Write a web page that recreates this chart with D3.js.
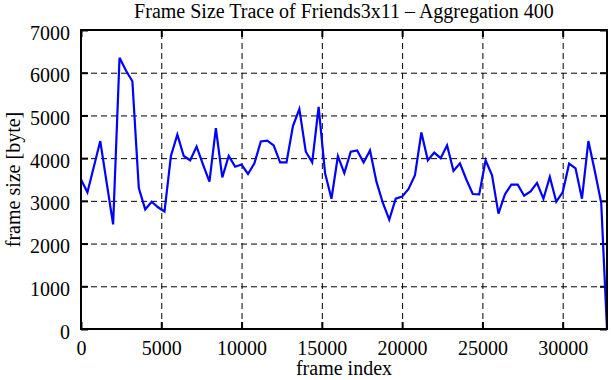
<!DOCTYPE html>
<html>
<head>
<meta charset="utf-8">
<script src="https://cdn.jsdelivr.net/npm/d3@7"></script>
<style>
  body { margin: 0; background: #fff; }
  svg text { font-family: "Liberation Serif", "Times New Roman", serif; font-size: 20px; fill: #000; }
</style>
</head>
<body>
<svg id="chart" width="611" height="380"></svg>
<script>
// aggregated frame sizes, one value per 400 frames
var frameSizes = [
  3500, 3200, 3800, 4400, 3420, 2450, 6350, 6050, 5800, 3300,
  2800, 2980, 2850, 2750, 4050, 4550, 4050, 3950, 4270, 3850,
  3450, 4700, 3550, 4050, 3800, 3850, 3630, 3880, 4390, 4410,
  4300, 3900, 3900, 4750, 5150, 4150, 3900, 5200, 3650, 3050,
  4050, 3650, 4150, 4180, 3900, 4180, 3450, 2950, 2560, 3050,
  3100, 3280, 3600, 4600, 3950, 4130, 4000, 4300, 3700, 3880,
  3500, 3160, 3150, 3950, 3600, 2700, 3150, 3380, 3380, 3120,
  3220, 3420, 3050, 3560, 2980, 3200, 3870, 3760, 3050, 4400,
  3700, 2950, 0
]
var aggregation = 400
var lastFrame = 32760

var xTicks = [0, 5000, 10000, 15000, 20000, 25000, 30000]
var yTicks = [0, 1000, 2000, 3000, 4000, 5000, 6000, 7000]

var title = 'Frame Size Trace of Friends3x11 \u2013 Aggregation 400'
var xTitle = 'frame index'
var yTitle = 'frame size [byte]'

var margin = {top: 30, right: 4, bottom: 51, left: 81}
var width = 611 - margin.left - margin.right
var height = 380 - margin.top - margin.bottom

var data = frameSizes.map(function (d, i) {
  return {frame: Math.min(i * aggregation, lastFrame), value: d}
})

var x = d3.scaleLinear().domain([0, lastFrame]).range([0, width])
var y = d3.scaleLinear().domain([0, 7000]).range([height, 0])

var svg = d3.select('#chart')
var g = svg.append('g').attr('transform', 'translate(' + margin.left + ',' + margin.top + ')')

// dashed grid
g.append('g')
  .attr('transform', 'translate(0,' + height + ')')
  .call(d3.axisBottom(x).tickValues(xTicks.slice(1)).tickSize(-height).tickFormat(''))
  .call(function (s) { s.select('.domain').remove() })
  .selectAll('line')
  .attr('stroke', '#000')
  .attr('stroke-dasharray', '6,4')

g.append('g')
  .call(d3.axisLeft(y).tickValues(yTicks.slice(1, -1)).tickSize(-width).tickFormat(''))
  .call(function (s) { s.select('.domain').remove() })
  .selectAll('line')
  .attr('stroke', '#000')
  .attr('stroke-dasharray', '6,4')

// inward ticks on all four sides
var bottomAxis = g.append('g')
  .attr('transform', 'translate(0,' + height + ')')
  .call(d3.axisBottom(x).tickValues(xTicks).tickSize(-7).tickPadding(12).tickFormat(d3.format('d')))
var leftAxis = g.append('g')
  .call(d3.axisLeft(y).tickValues(yTicks).tickSize(-7).tickPadding(11).tickFormat(d3.format('d')))
g.append('g')
  .call(d3.axisTop(x).tickValues(xTicks).tickSize(-7).tickFormat(''))
g.append('g')
  .attr('transform', 'translate(' + width + ',0)')
  .call(d3.axisRight(y).tickValues(yTicks).tickSize(-7).tickFormat(''))

g.selectAll('.domain').remove()
g.selectAll('.tick line').filter(function () {
  return !this.getAttribute('stroke-dasharray')
}).attr('stroke', '#000').attr('stroke-width', 2)

leftAxis.selectAll('text').attr('dy', '0.45em')
svg.selectAll('.tick text').style('font-size', '20px').style('font-family', '"Liberation Serif", "Times New Roman", serif')

// trace line
var line = d3.line()
  .x(function (d) { return x(d.frame) })
  .y(function (d) { return y(d.value) })

g.append('path')
  .datum(data)
  .attr('fill', 'none')
  .attr('stroke', '#0000ff')
  .attr('stroke-width', 2.2)
  .attr('stroke-linejoin', 'miter')
  .attr('d', line)

// frame
g.append('rect')
  .attr('width', width)
  .attr('height', height)
  .attr('fill', 'none')
  .attr('stroke', '#000')
  .attr('stroke-width', 2)

svg.append('text')
  .attr('x', margin.left + width / 2)
  .attr('y', 18)
  .attr('text-anchor', 'middle')
  .text(title)

svg.append('text')
  .attr('x', margin.left + width / 2)
  .attr('y', 375)
  .attr('text-anchor', 'middle')
  .text(xTitle)

svg.append('text')
  .attr('transform', 'translate(20,' + (margin.top + height / 2) + ') rotate(-90)')
  .attr('text-anchor', 'middle')
  .text(yTitle)
</script>
</body>
</html>
